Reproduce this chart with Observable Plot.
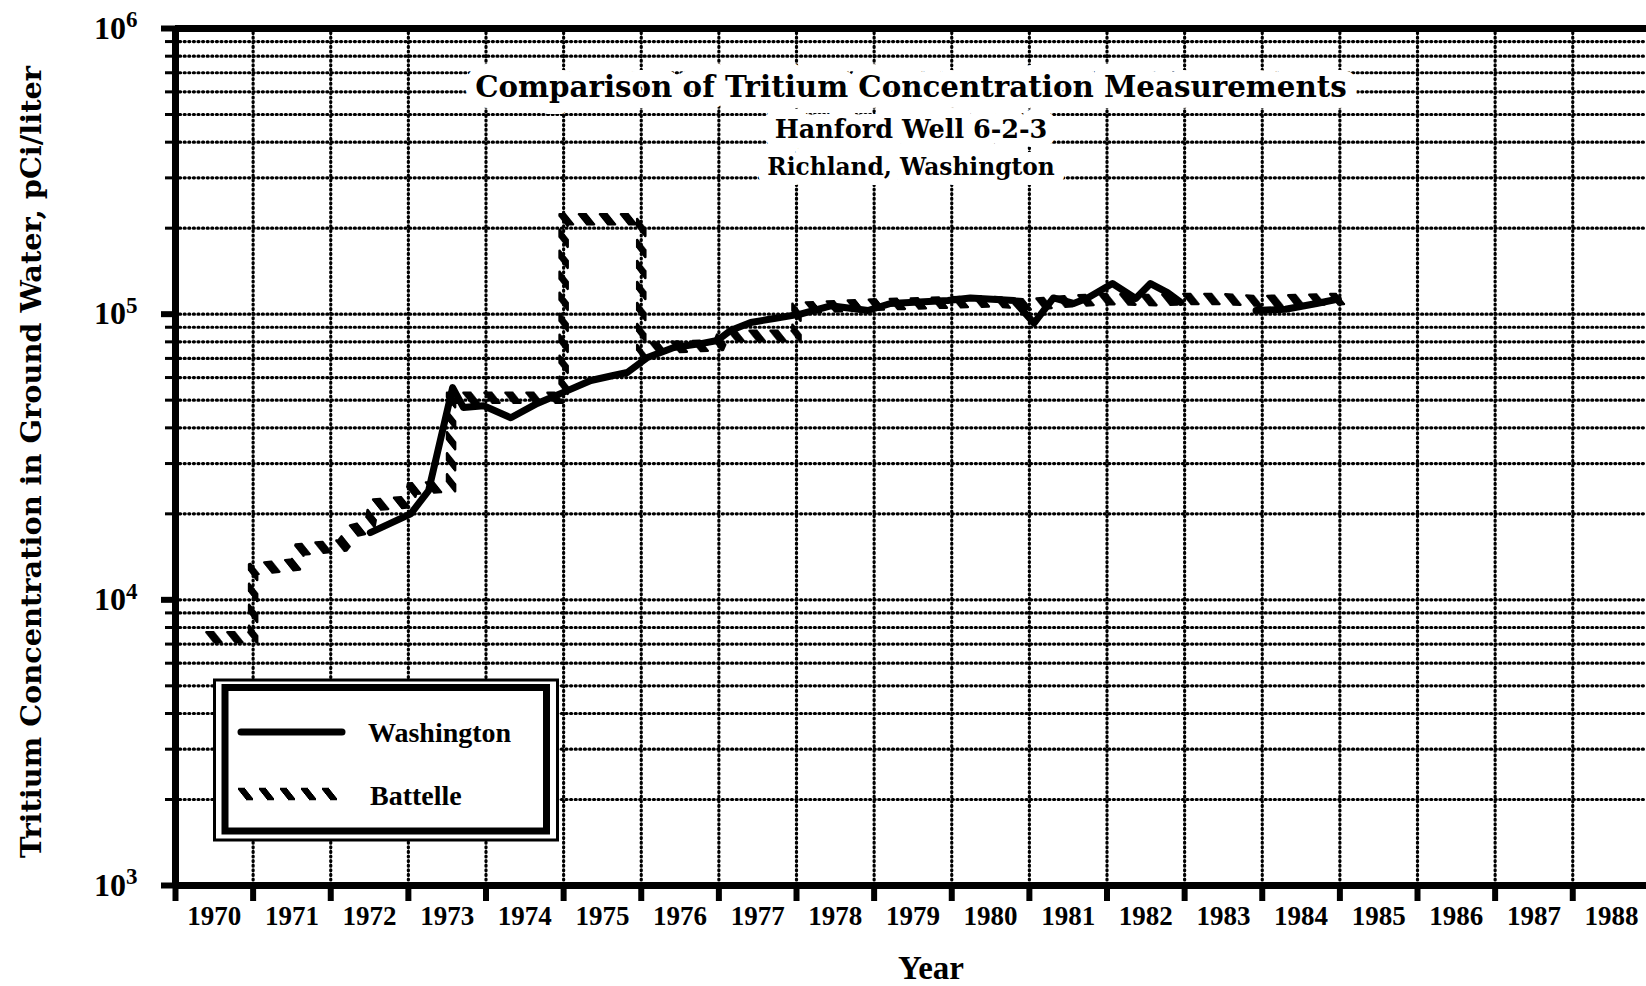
<!DOCTYPE html>
<html><head><meta charset="utf-8">
<script src="https://cdn.jsdelivr.net/npm/d3@7"></script>
<script src="https://cdn.jsdelivr.net/npm/@observablehq/plot@0.6"></script>
<style>body{margin:0;background:#fff}</style>
</head><body><div id="chart"></div>
<script>
// ---- data ----
const washYears  = [1972.51,1973.03,1973.26,1973.45,1973.57,1973.71,1973.97,1974.32,1974.66,1975.05,1975.35,1975.64,1975.82,1976.08,1976.42,1976.77,1976.98,1977.15,1977.41,1977.71,1978.05,1978.44,1978.92,1979.21,1979.95,1980.24,1980.80,1981.06,1981.31,1981.57,1981.75,1982.07,1982.37,1982.56,1982.78,1982.95,1983.45,1983.92,1984.3,1984.7,1984.98];
const washValues = [17200,20000,24100,40100,55300,47100,47800,43400,48700,54000,58600,61000,62500,70500,76400,78900,80900,87700,93500,96600,100000,107000,103000,109000,111600,114000,111600,93000,114000,109000,114000,128000,113500,128000,119000,110000,null,103000,104000,109000,113000];

const battYears  = [1970.45,1971.0,1971.0,1971.55,1971.6,1972.15,1972.3,1972.5,1972.55,1973.0,1973.05,1973.55,1973.55,1975.0,1975.0,1976.0,1976.0,1976.1,1977.0,1977.05,1978.0,1978.0,1979.0,1980.0,1980.5,1981.0,1981.5,1982.0,1982.6,1983.0,1983.5,1984.0,1984.5,1985.0];
const battValues = [7400,7400,12800,13300,15000,15500,17500,18000,21500,22000,24500,25000,51000,51000,215000,215000,72000,76000,78000,84000,84000,105000,108000,110000,111000,108000,111000,113000,112000,113000,113000,111000,112000,113000];

const yearLabels = [1970,1971,1972,1973,1974,1975,1976,1977,1978,1979,1980,1981,1982,1983,1984,1985,1986,1987,1988];
const yearBounds = [1970,1971,1972,1973,1974,1975,1976,1977,1978,1979,1980,1981,1982,1983,1984,1985,1986,1987,1988];
const decadeTicks = [1e3,1e4,1e5,1e6];
const gridValues = [2e3,3e3,4e3,5e3,6e3,7e3,8e3,9e3,1e4,2e4,3e4,4e4,5e4,6e4,7e4,8e4,9e4,1e5,2e5,3e5,4e5,5e5,6e5,7e5,8e5,9e5];
const titleLines = ["Comparison of Tritium Concentration Measurements","Hanford Well 6-2-3","Richland, Washington"];
const yLabel = "Tritium Concentration in Ground Water, pCi/liter";
const xLabel = "Year";
const seriesNames = ["Washington","Battelle"];

const washington = washYears.map((x,i)=>({year:x, value:washValues[i]}));
const battelle = battYears.map((x,i)=>({year:x, value:battValues[i]}));
const midYears = yearLabels.map(y=>y+0.5);

const dotted = {stroke:"black", strokeWidth:3.2, strokeDasharray:"1,3.6", strokeLinecap:"round"};
const nib = [-1,-0.75,-0.5,-0.25,0,0.25,0.5,0.75,1];
const hatch = {stroke:"black", strokeWidth:2.6, strokeDasharray:"7,14"};
const serif = "DejaVu Serif";

const svg = Plot.plot({
  width:1646, height:986,
  marginLeft:175, marginRight:0, marginTop:28, marginBottom:101,
  x:{domain:[1970,1988.95], label:null},
  y:{type:"log", domain:[1e3,1e6], label:null},
  style:{fontFamily:"Liberation Serif", fontWeight:"bold", background:"white", color:"black"},
  marks:[
    Plot.ruleY(gridValues, dotted),
    Plot.ruleX(yearBounds.slice(1), dotted),
    ...nib.map(t=>Plot.line(battelle,{x:"year", y:"value", ...hatch, dx:4*t, dy:5*t})),
    Plot.line(washington,{x:"year", y:"value", stroke:"black", strokeWidth:7, strokeLinejoin:"round", strokeLinecap:"round"}),
    Plot.ruleX([1970],{stroke:"black", strokeWidth:7}),
    Plot.ruleY([1e3],{stroke:"black", strokeWidth:7}),
    Plot.ruleY([1e6],{stroke:"black", strokeWidth:7}),
    Plot.axisY({ticks:gridValues, tickSize:10, strokeWidth:3, tickFormat:()=>"", label:null}),
    Plot.axisY({ticks:decadeTicks, tickSize:14, strokeWidth:6, tickFormat:()=>"", label:null}),
    Plot.axisY({ticks:decadeTicks, tickSize:0, tickPadding:38, fontSize:32, tickFormat:d=>"10^"+Math.round(Math.log10(d)), label:null}),
    Plot.axisX({ticks:yearBounds, tickSize:16, strokeWidth:6, tickFormat:()=>"", label:null}),
    Plot.axisX({ticks:midYears, tickSize:0, tickPadding:20, fontSize:27, tickFormat:d=>String(Math.floor(d)), label:null}),
    Plot.text([titleLines[0]],{text:d=>d, frameAnchor:"top", dy:59, lineAnchor:"middle", fontSize:29.3, fontFamily:serif, fontWeight:"bold", fill:"black", stroke:"white", strokeWidth:22}),
    Plot.text([titleLines[1]],{text:d=>d, frameAnchor:"top", dy:101, lineAnchor:"middle", fontSize:25.5, fontFamily:serif, fontWeight:"bold", fill:"black", stroke:"white", strokeWidth:20}),
    Plot.text([titleLines[2]],{text:d=>d, frameAnchor:"top", dy:139, lineAnchor:"middle", fontSize:23.3, fontFamily:serif, fontWeight:"bold", fill:"black", stroke:"white", strokeWidth:20}),
    Plot.text([yLabel],{text:d=>d, frameAnchor:"left", textAnchor:"middle", dx:-144, dy:5, rotate:-90, lineAnchor:"middle", fontSize:28.8, fontFamily:serif, fontWeight:"bold", fill:"black"}),
    Plot.text([xLabel],{text:d=>d, frameAnchor:"bottom", dy:83, dx:20, lineAnchor:"middle", fontSize:33, fontWeight:"bold", fill:"black"})
  ]
});
document.getElementById("chart").appendChild(svg);

// superscript exponents on decade labels
d3.select(svg).selectAll("text").each(function(){
  const m = /^10\^(\d)$/.exec(this.textContent);
  if (m) {
    this.textContent = "10";
    d3.select(this).append("tspan").attr("dy","-0.5em").attr("font-size","0.72em").text(m[1]);
  }
});

// legend box
const lg = d3.select(svg).append("g");
lg.append("rect").attr("x",214.5).attr("y",680).attr("width",343).attr("height",160).attr("fill","white").attr("stroke","black").attr("stroke-width",3);
lg.append("rect").attr("x",225).attr("y",687.5).attr("width",321.5).attr("height",143.5).attr("fill","none").attr("stroke","black").attr("stroke-width",7);
lg.append("line").attr("x1",241).attr("x2",342).attr("y1",732).attr("y2",732).attr("stroke","black").attr("stroke-width",7).attr("stroke-linecap","round");
nib.forEach(t=>{
  lg.append("line").attr("x1",242+4*t).attr("x2",343+4*t).attr("y1",794+5*t).attr("y2",794+5*t)
    .attr("stroke","black").attr("stroke-width",2.6).attr("stroke-dasharray","7,14");
});
lg.append("text").attr("x",368).attr("y",732).attr("dy","0.35em").attr("text-anchor","start").attr("font-family","Liberation Serif").attr("font-weight","bold").attr("font-size",28).text(seriesNames[0]);
lg.append("text").attr("x",370).attr("y",795).attr("dy","0.35em").attr("text-anchor","start").attr("font-family","Liberation Serif").attr("font-weight","bold").attr("font-size",28).text(seriesNames[1]);
</script>
</body></html>
